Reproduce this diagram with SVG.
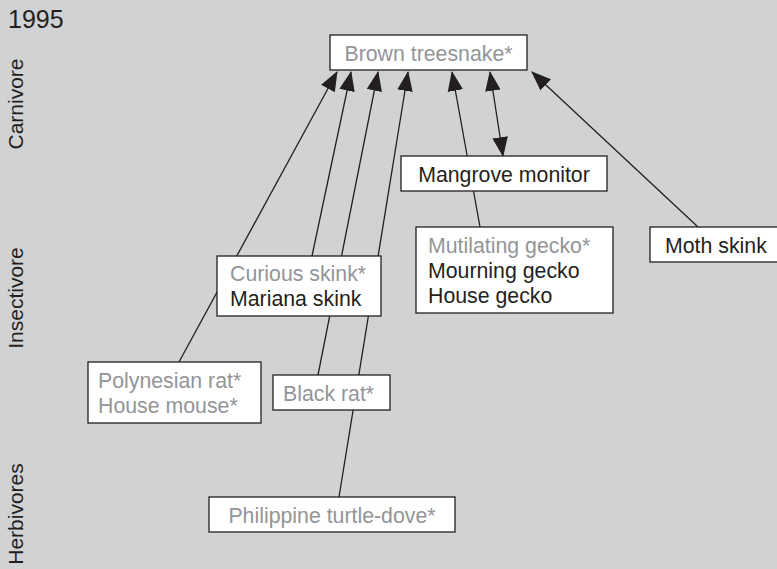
<svg xmlns="http://www.w3.org/2000/svg" width="777" height="569" viewBox="0 0 777 569">
<defs>
<marker id="ah" markerUnits="userSpaceOnUse" markerWidth="20" markerHeight="16" viewBox="0 0 18 14" refX="17" refY="7" orient="auto-start-reverse">
<path d="M0,0 L18,7 L0,14 Z" fill="#231f20"/>
</marker>
<style>
text{font-family:"Liberation Sans",Arial,sans-serif;font-size:21.3px;fill:#231f20}
.g{fill:#939598}
.box{fill:#ffffff;stroke:#231f20;stroke-width:1.3}
.lab{font-size:21px}
.c line{stroke:#231f20;stroke-width:1.3}
</style>
</defs>
<rect x="0" y="0" width="777" height="569" fill="#d1d2d4"/>
<text x="8" y="28" style="font-size:25px">1995</text>
<text class="lab" transform="translate(23,104) rotate(-90)" text-anchor="middle">Carnivore</text>
<text class="lab" transform="translate(23,298) rotate(-90)" text-anchor="middle">Insectivore</text>
<text class="lab" transform="translate(23,514) rotate(-90)" text-anchor="middle">Herbivores</text>

<g class="c" id="connectors">
<line x1="179" y1="362" x2="337" y2="72" marker-end="url(#ah)"/>
<line x1="312" y1="256" x2="351" y2="72" marker-end="url(#ah)"/>
<line x1="318" y1="375" x2="378" y2="72" marker-end="url(#ah)"/>
<line x1="339" y1="497" x2="408" y2="72" marker-end="url(#ah)"/>
<line x1="480" y1="227" x2="452" y2="72" marker-end="url(#ah)"/>
<line x1="490" y1="72" x2="503" y2="156" marker-start="url(#ah)" marker-end="url(#ah)"/>
<line x1="698" y1="227" x2="532" y2="72" marker-end="url(#ah)"/>
</g>

<g id="brown-treesnake">
<rect class="box" x="330" y="35" width="197" height="35"/>
<text class="g" x="428.5" y="61" text-anchor="middle">Brown treesnake*</text>
</g>
<g id="mangrove-monitor">
<rect class="box" x="401" y="156" width="206" height="35"/>
<text x="504" y="182" text-anchor="middle">Mangrove monitor</text>
</g>
<g id="geckos">
<rect class="box" x="416" y="227" width="197" height="86"/>
<text class="g" x="428" y="253">Mutilating gecko*</text>
<text x="428" y="278">Mourning gecko</text>
<text x="428" y="303">House gecko</text>
</g>
<g id="moth-skink">
<rect class="box" x="650" y="227" width="140" height="35"/>
<text x="665" y="253">Moth skink</text>
</g>
<g id="skinks">
<rect class="box" x="217" y="256" width="164" height="60"/>
<text class="g" x="230" y="281">Curious skink*</text>
<text x="230" y="306">Mariana skink</text>
</g>
<g id="rat-mouse">
<rect class="box" x="88" y="362" width="173" height="61"/>
<text class="g" x="98" y="388">Polynesian rat*</text>
<text class="g" x="98" y="413">House mouse*</text>
</g>
<g id="black-rat">
<rect class="box" x="273" y="375" width="117" height="35"/>
<text class="g" x="283" y="401">Black rat*</text>
</g>
<g id="turtle-dove">
<rect class="box" x="209" y="497" width="246" height="35"/>
<text class="g" x="332" y="523" text-anchor="middle">Philippine turtle-dove*</text>
</g>
</svg>
